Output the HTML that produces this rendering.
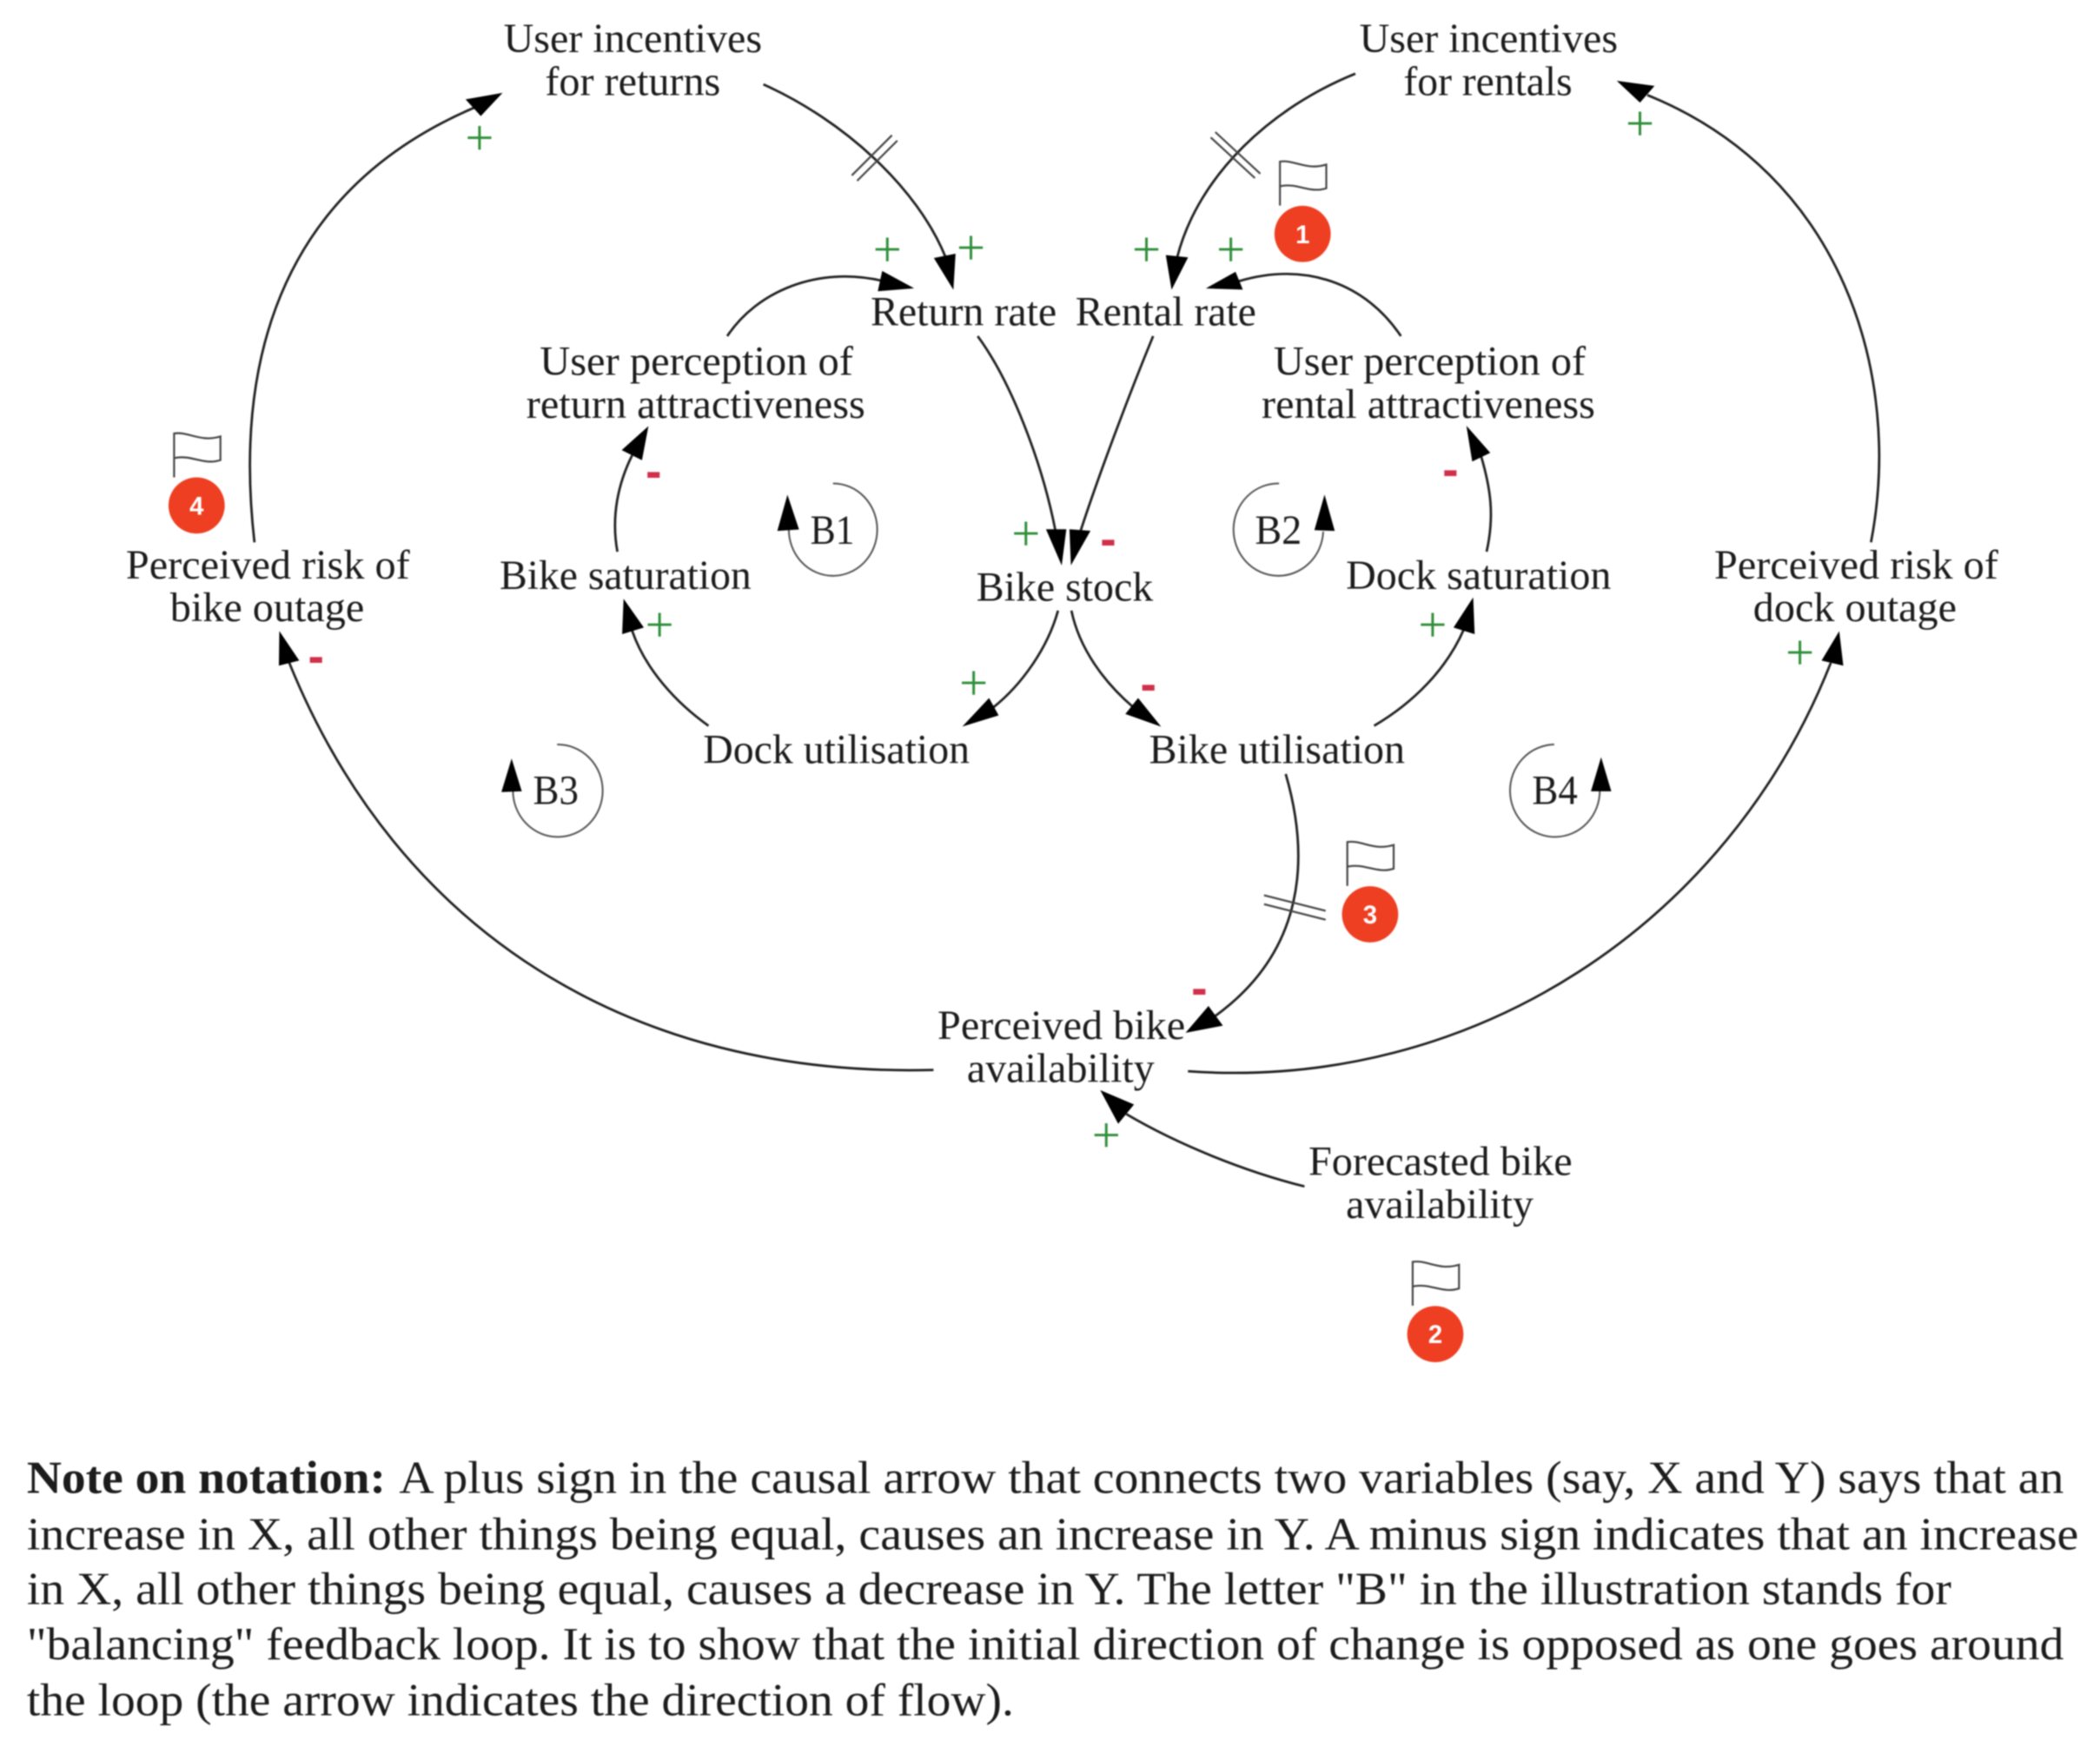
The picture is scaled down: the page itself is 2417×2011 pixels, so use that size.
<!DOCTYPE html>
<html lang="en">
<head>
<meta charset="utf-8">
<title>Bike sharing causal loop diagram</title>
<style>
html,body{margin:0;padding:0;background:#fff;width:2417px;height:2011px;overflow:hidden}
svg{display:block;filter:blur(.8px)}
text{font-family:"Liberation Serif",serif;fill:#1c1c1c}
.n{font-size:31px}
.p{font-size:34px}
.c{fill:none;stroke:#222;stroke-width:1.8}
.l{fill:none;stroke:#555;stroke-width:1.3}
.h{fill:none;stroke:#444;stroke-width:1.4}
.a{fill:#000;stroke:#000;stroke-width:.9;stroke-linejoin:miter}
text.plus{font-size:38px;fill:#2f8f3a;text-anchor:middle}
text.minus{font-family:"Liberation Sans",sans-serif;font-weight:700;font-size:36px;fill:#d0304a;text-anchor:middle}
.fl{fill:#fff;stroke:#444;stroke-width:1.4}
.dot{fill:#ee3f22}
text.num{font-family:"Liberation Sans",sans-serif;font-weight:700;font-size:19px;fill:#fff;text-anchor:middle}
</style>
</head>
<body>
<svg xmlns="http://www.w3.org/2000/svg" width="2417" height="2011" viewBox="0 0 1568 1304.63" preserveAspectRatio="none">
<rect width="1568" height="1304.63" fill="#fff"/>

<!-- connectors -->
<path class="c" d="M190,405 C178,300 190,150 355,80"/>
<polygon class="a" points="374,70 348.5,74.5 359,86"/>

<path class="c" d="M570,63 C630,90 685,140 706,192"/>
<polygon class="a" points="711.5,215 698,193 713,190"/>

<path class="c" d="M543,251 C565,218 610,198 660,210"/>
<polygon class="a" points="681,215 659,203 656,217"/>

<path class="c" d="M730,251 C755,285 778,345 788,396"/>
<polygon class="a" points="792.5,420.6 781.7,395.7 795.7,395.7"/>

<path class="c" d="M861,251 C845,290 822,350 807,396"/>
<polygon class="a" points="800,420.6 799,395.7 813.5,396.8"/>

<path class="c" d="M790,456 C782,485 762,512 742,528"/>
<polygon class="a" points="720,541.7 738.4,522 745,534"/>

<path class="c" d="M800,456 C806,485 825,510 846,528"/>
<polygon class="a" points="865.6,541.7 849.8,522 841,533"/>

<path class="c" d="M529,542 C505,525 482,500 472,471"/>
<polygon class="a" points="466,448.5 465,473 480,468.4"/>

<path class="c" d="M461,412 C456,385 462,360 472,340"/>
<polygon class="a" points="483.5,319.4 465,336 479,343"/>

<path class="c" d="M1110,412 C1116,385 1113,365 1106,341"/>
<polygon class="a" points="1095.6,319.4 1112,338 1099.6,344"/>

<path class="c" d="M1026,542 C1055,525 1080,500 1093,470"/>
<polygon class="a" points="1099.6,447.5 1086,468.4 1100.6,473"/>

<path class="c" d="M1046,251 C1020,212 975,195 925,210"/>
<polygon class="a" points="902,215 922.3,203.6 927.3,215.8"/>

<path class="c" d="M1012,55 C950,80 895,130 879,192"/>
<polygon class="a" points="875,215 871,191 886.4,192.6"/>

<path class="c" d="M1397,405 C1421,280 1376,130 1230,71"/>
<polygon class="a" points="1208.5,61 1224.5,76 1234.5,64.5"/>

<path class="c" d="M697,799 C470,805 297,695 216,495"/>
<polygon class="a" points="209,472.7 208.7,496.5 222.7,493"/>

<path class="c" d="M887,800 C1100,815 1290,690 1367,495"/>
<polygon class="a" points="1373,472.7 1360.8,493 1375.8,496.5"/>

<path class="c" d="M960,578 C978,640 975,710 907,759"/>
<polygon class="a" points="886.4,770.6 902.3,752 912.3,765.6"/>

<path class="c" d="M974,886 C930,875 880,855 841,832"/>
<polygon class="a" points="822.5,815 835,838.4 846,825"/>

<!-- delay marks -->
<path class="h" d="M636,131 L666,101 M640,135 L670,105"/>
<path class="h" d="M904,102.6 L937,133 M907.4,98.6 L941,129.7"/>
<path class="h" d="M943.8,668.6 L989.8,680.2 M943.8,675.2 L989.8,686.8"/>

<!-- loop markers -->
<path class="l" d="M622,361 A33,34.5 0 1 1 589,395"/>
<polygon class="a" points="588,371 581,396 596,395"/>
<path class="l" d="M955,361 A33.5,34.5 0 1 0 988,397"/>
<polygon class="a" points="989,371 982,395.5 996,396"/>
<path class="l" d="M416,556 A33.5,34.5 0 1 1 383,590"/>
<polygon class="a" points="382,568 375,591 389,590.5"/>
<path class="l" d="M1160.5,556 A33.5,34.5 0 1 0 1194.5,590"/>
<polygon class="a" points="1195.5,567 1188.5,590.5 1202.5,590.5"/>

<!-- nodes -->
<g class="n">
<text x="376" y="39" textLength="193" lengthAdjust="spacingAndGlyphs">User incentives</text>
<text x="407" y="71" textLength="131" lengthAdjust="spacingAndGlyphs">for returns</text>
<text x="1015" y="39" textLength="193" lengthAdjust="spacingAndGlyphs">User incentives</text>
<text x="1048" y="71" textLength="126" lengthAdjust="spacingAndGlyphs">for rentals</text>
<text x="650" y="243" textLength="139" lengthAdjust="spacingAndGlyphs">Return rate</text>
<text x="803" y="243" textLength="135" lengthAdjust="spacingAndGlyphs">Rental rate</text>
<text x="403" y="280" textLength="234" lengthAdjust="spacingAndGlyphs">User perception of</text>
<text x="393" y="312" textLength="253" lengthAdjust="spacingAndGlyphs">return attractiveness</text>
<text x="951" y="280" textLength="233" lengthAdjust="spacingAndGlyphs">User perception of</text>
<text x="942" y="312" textLength="249" lengthAdjust="spacingAndGlyphs">rental attractiveness</text>
<text x="373" y="440" textLength="188" lengthAdjust="spacingAndGlyphs">Bike saturation</text>
<text x="1005" y="440" textLength="198" lengthAdjust="spacingAndGlyphs">Dock saturation</text>
<text x="94" y="432" textLength="212" lengthAdjust="spacingAndGlyphs">Perceived risk of</text>
<text x="127" y="464" textLength="145" lengthAdjust="spacingAndGlyphs">bike outage</text>
<text x="1280" y="432" textLength="212" lengthAdjust="spacingAndGlyphs">Perceived risk of</text>
<text x="1309" y="464" textLength="152" lengthAdjust="spacingAndGlyphs">dock outage</text>
<text x="729" y="448.5" textLength="132" lengthAdjust="spacingAndGlyphs">Bike stock</text>
<text x="525" y="570" textLength="199" lengthAdjust="spacingAndGlyphs">Dock utilisation</text>
<text x="858" y="570" textLength="191" lengthAdjust="spacingAndGlyphs">Bike utilisation</text>
<text x="700" y="776" textLength="185" lengthAdjust="spacingAndGlyphs">Perceived bike</text>
<text x="722" y="808" textLength="140" lengthAdjust="spacingAndGlyphs">availability</text>
<text x="977" y="877.5" textLength="197" lengthAdjust="spacingAndGlyphs">Forecasted bike</text>
<text x="1005" y="909.5" textLength="140" lengthAdjust="spacingAndGlyphs">availability</text>
<text x="605" y="406" textLength="33" lengthAdjust="spacingAndGlyphs">B1</text>
<text x="937" y="406" textLength="35" lengthAdjust="spacingAndGlyphs">B2</text>
<text x="398" y="600.5" textLength="34" lengthAdjust="spacingAndGlyphs">B3</text>
<text x="1144" y="600.5" textLength="34" lengthAdjust="spacingAndGlyphs">B4</text>
</g>

<!-- polarity signs -->
<g>
<text class="plus" x="358" y="115.5">+</text>
<text class="plus" x="662.5" y="199">+</text>
<text class="plus" x="725" y="197.7">+</text>
<text class="plus" x="492.5" y="479">+</text>
<text class="plus" x="766" y="411">+</text>
<text class="plus" x="727" y="522.5">+</text>
<text class="plus" x="1224.5" y="104.7">+</text>
<text class="plus" x="856" y="199">+</text>
<text class="plus" x="919" y="199">+</text>
<text class="plus" x="1069.7" y="479">+</text>
<text class="plus" x="1344" y="500">+</text>
<text class="plus" x="826" y="860.4">+</text>
<text class="minus" x="488" y="364">-</text>
<text class="minus" x="236" y="502">-</text>
<text class="minus" x="1083" y="362.5">-</text>
<text class="minus" x="827.5" y="414.5">-</text>
<text class="minus" x="857.5" y="523">-</text>
<text class="minus" x="895.5" y="750">-</text>
</g>

<!-- flags and numbered badges -->
<g>
<path class="fl" d="M955.7,153.5 V120.7 C966.5,119 975.2,127.6 990.3,122.9 V140.6 C977.7,144.7 968.7,136.2 955.7,139.1"/>
<circle class="dot" cx="972.6" cy="174.7" r="21"/>
<text class="num" x="972.6" y="181.5">1</text>

<path class="fl" d="M130,356.5 V323.7 C140.8,322 149.5,330.6 164.6,325.9 V343.6 C152,347.7 143,339.2 130,342.1"/>
<circle class="dot" cx="146.8" cy="377.5" r="21"/>
<text class="num" x="146.8" y="384.3">4</text>

<path class="fl" d="M1006,661.6 V628.8 C1016.8,627.1 1025.5,635.7 1040.6,631 V648.7 C1028,652.8 1019,644.3 1006,647.2"/>
<circle class="dot" cx="1023" cy="682.8" r="21"/>
<text class="num" x="1023" y="689.6">3</text>

<path class="fl" d="M1054.8,975.1 V942.3 C1065.6,940.6 1074.3,949.2 1089.4,944.5 V962.2 C1076.8,966.3 1067.8,957.8 1054.8,960.7"/>
<circle class="dot" cx="1071.7" cy="996.3" r="21"/>
<text class="num" x="1071.7" y="1003.1">2</text>
</g>

<!-- note -->
<g class="p">
<text x="20" y="1115" font-weight="700" textLength="268" lengthAdjust="spacingAndGlyphs">Note on notation:</text>
<text x="298" y="1115" textLength="1243" lengthAdjust="spacingAndGlyphs">A plus sign in the causal arrow that connects two variables (say, X and Y) says that an</text>
<text x="20" y="1157" textLength="1532" lengthAdjust="spacingAndGlyphs">increase in X, all other things being equal, causes an increase in Y. A minus sign indicates that an increase</text>
<text x="20" y="1198" textLength="1437" lengthAdjust="spacingAndGlyphs">in X, all other things being equal, causes a decrease in Y. The letter "B" in the illustration stands for</text>
<text x="20" y="1239" textLength="1521" lengthAdjust="spacingAndGlyphs">"balancing" feedback loop. It is to show that the initial direction of change is opposed as one goes around</text>
<text x="20" y="1281" textLength="737" lengthAdjust="spacingAndGlyphs">the loop (the arrow indicates the direction of flow).</text>
</g>
</svg>
</body>
</html>
